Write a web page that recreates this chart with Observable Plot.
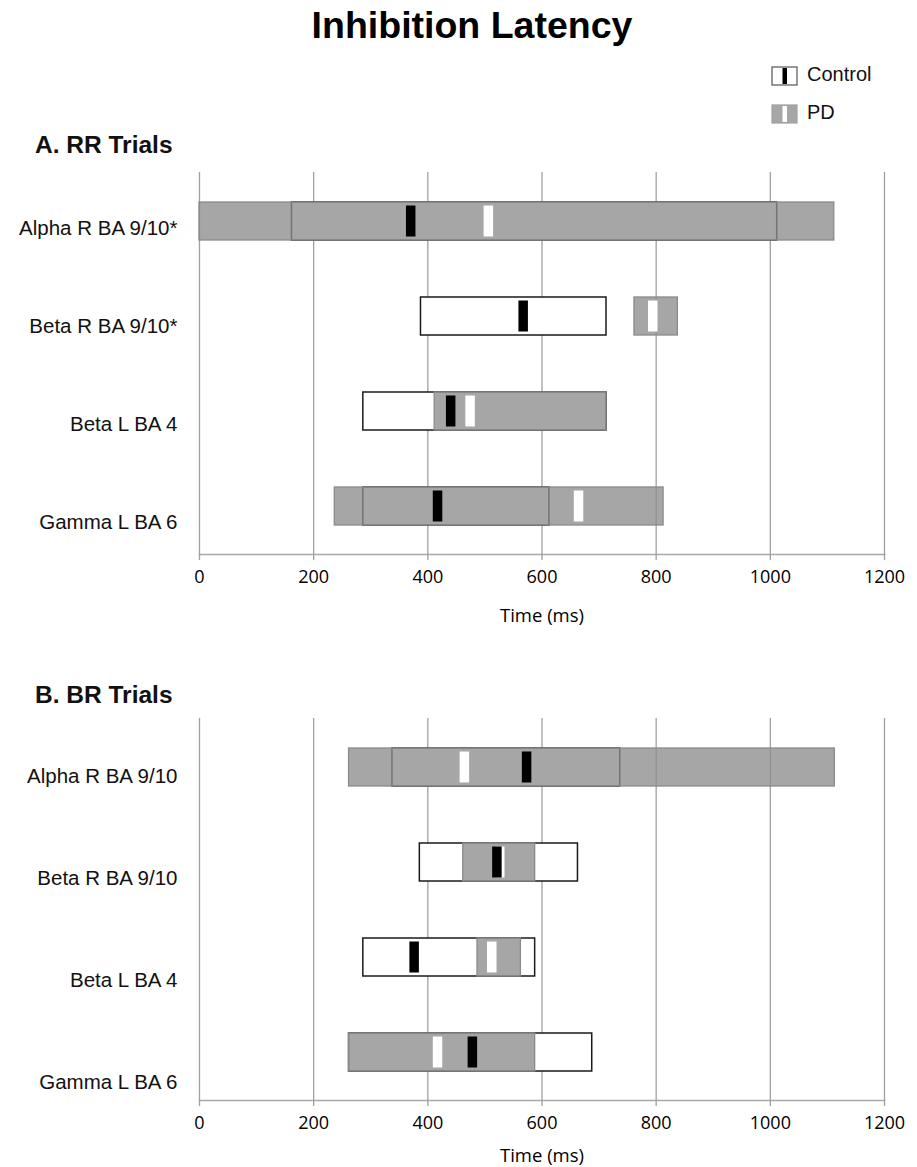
<!DOCTYPE html>
<html><head><meta charset="utf-8">
<script src="https://cdn.jsdelivr.net/npm/d3@7"></script>
<script src="https://cdn.jsdelivr.net/npm/@observablehq/plot@0.6"></script>
<style>
body{margin:0;background:#fff;}
#root{position:relative;width:917px;height:1167px;overflow:hidden;font-family:"Liberation Sans",Arial,sans-serif;color:#111;}
.abs{position:absolute;white-space:nowrap;}
.abs svg{background:transparent;}
</style></head><body><div id="root"></div>
<script>
// ---- data (ms) ----
const xTicks = [0, 200, 400, 600, 800, 1000, 1200];
const xLabel = "Time (ms)";

const rowsA = ["Alpha R BA 9/10*", "Beta R BA 9/10*", "Beta L BA 4", "Gamma L BA 6"];
const controlStartA  = [162, 388, 287, 287];
const controlEndA    = [1012, 713, 713, 613];
const controlMedianA = [370, 567, 440, 417];
const pdStartA  = [0, 762, 412, 237];
const pdEndA    = [1112, 838, 713, 813];
const pdMedianA = [506, 794, 474, 664];

const rowsB = ["Alpha R BA 9/10", "Beta R BA 9/10", "Beta L BA 4", "Gamma L BA 6"];
const controlStartB  = [338, 386, 287, 262];
const controlEndB    = [737, 663, 588, 688];
const controlMedianB = [573, 521, 376, 478];
const pdStartB  = [262, 462, 487, 262];
const pdEndB    = [1113, 588, 563, 588];
const pdMedianB = [464, 526, 512, 417];

const root = document.getElementById("root");
function place(el, left, top) {
  const d = document.createElement("div");
  d.className = "abs"; d.style.left = left + "px"; d.style.top = top + "px";
  d.appendChild(el); root.appendChild(d); return d;
}
function textDiv(txt, left, top, css) {
  const s = document.createElement("div");
  s.textContent = txt; s.style.cssText = css;
  return place(s, left, top);
}

function panelPlot(rows, cs, ce, cm, ps, pe, pm) {
  const data = rows.map((r, i) => ({row: r, cs: cs[i], ce: ce[i], cm: cm[i], ps: ps[i], pe: pe[i], pm: pm[i]}));
  return Plot.plot({
    width: 917, height: 440,
    marginLeft: 199, marginRight: 33, marginTop: 12, marginBottom: 46,
    style: {background: "transparent", fontFamily: "Liberation Sans, Arial, sans-serif"},
    x: {domain: [0, 1200]},
    y: {domain: rows, type: "band", paddingInner: 0.6, paddingOuter: 0.3, axis: null},
    marks: [
      Plot.gridX(xTicks, {stroke: "#a0a0a0", strokeOpacity: 1, strokeWidth: 1.3}),
      Plot.frame({anchor: "bottom", stroke: "#a8a8a8", strokeWidth: 1.6}),
      Plot.axisX(xTicks, {tickSize: 6, stroke: "#a0a0a0", strokeWidth: 1.3, tickPadding: 10,
        fontSize: 18, fontFamily: "Open Sans", fill: "#000", tickFormat: d => `${d}`, label: null}),
      Plot.barX(data, {x1: "cs", x2: "ce", y: "row", fill: "white", stroke: "#1a1a1a", strokeWidth: 1.5}),
      Plot.barX(data, {x1: "ps", x2: "pe", y: "row", fill: "#8d8d8d", fillOpacity: 0.78, stroke: "#8a8a8a", strokeWidth: 1.3}),
      Plot.tickX(data, {x: "pm", y: "row", stroke: "white", strokeWidth: 9.5, insetTop: 3.5, insetBottom: 3.5}),
      Plot.tickX(data, {x: "cm", y: "row", stroke: "black", strokeWidth: 9.5, insetTop: 3.5, insetBottom: 3.5})
    ]
  });
}

function labelPlot(rows, h) {
  return Plot.plot({
    width: 190, height: h, marginLeft: 178, marginRight: 0, marginTop: 0, marginBottom: 0,
    style: {background: "transparent"},
    y: {domain: rows, type: "band", padding: 0},
    marks: [Plot.axisY({tickSize: 0, tickPadding: 1, fontSize: 20.5, fontFamily: "Liberation Sans, Arial, sans-serif", fill: "#111", label: null})]
  });
}

// title
textDiv("Inhibition Latency", 0, 4, "width:944px;text-align:center;font:bold 37.5px 'Liberation Sans',Arial,sans-serif;color:#000;");

// legend
function swatch(bg, bar, border) {
  const ns = "http://www.w3.org/2000/svg";
  const s = document.createElementNS(ns, "svg");
  s.setAttribute("width", 27); s.setAttribute("height", 20);
  s.innerHTML = `<rect x="1" y="1" width="25" height="18" fill="${bg}" stroke="${border}" stroke-width="1.2"/><rect x="11.5" y="2" width="4.5" height="16" fill="${bar}"/>`;
  return s;
}
place(swatch("#fff", "#000", "#555"), 771, 66);
place(swatch("#a6a6a6", "#fff", "#a0a0a0"), 771, 104);
textDiv("Control", 807, 63, "font:20px 'Liberation Sans',Arial,sans-serif;color:#111;");
textDiv("PD", 807, 101, "font:20px 'Liberation Sans',Arial,sans-serif;color:#111;");

// panel A
textDiv("A. RR Trials", 35, 131, "font:bold 24.5px 'Liberation Sans',Arial,sans-serif;color:#111;");
place(panelPlot(rowsA, controlStartA, controlEndA, controlMedianA, pdStartA, pdEndA, pdMedianA), 0, 160);
place(labelPlot(rowsA, 394), 0, 178);
textDiv(xLabel, 442, 602, "width:200px;text-align:center;font:18.5px 'Open Sans',sans-serif;color:#000;");

// panel B
textDiv("B. BR Trials", 35, 681, "font:bold 24.5px 'Liberation Sans',Arial,sans-serif;color:#111;");
place(panelPlot(rowsB, controlStartB, controlEndB, controlMedianB, pdStartB, pdEndB, pdMedianB), 0, 706);
place(labelPlot(rowsB, 409), 0, 724);
textDiv(xLabel, 442, 1142, "width:200px;text-align:center;font:18.5px 'Open Sans',sans-serif;color:#000;");
</script></body></html>
